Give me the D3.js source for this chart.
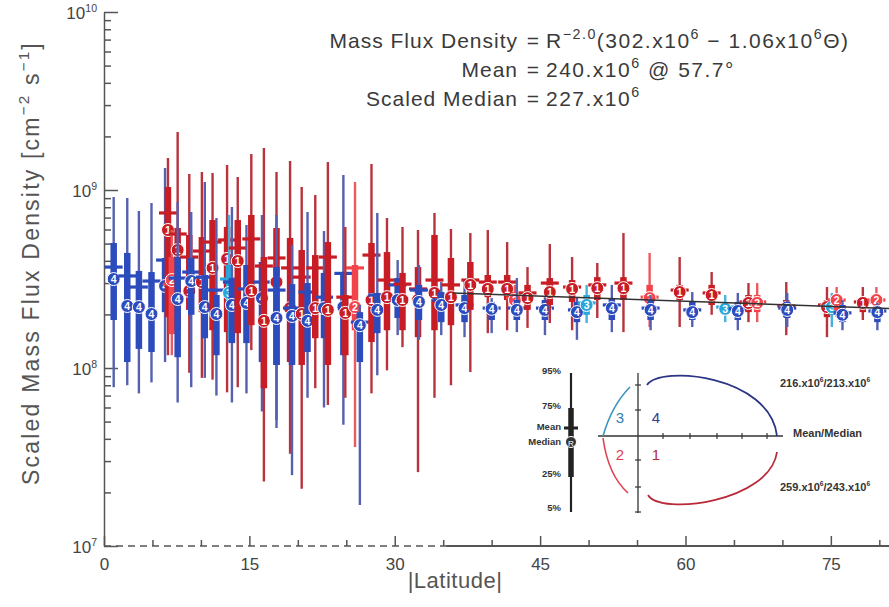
<!DOCTYPE html>
<html><head><meta charset="utf-8">
<script src="https://cdn.jsdelivr.net/npm/d3@7"></script>
<style>body{margin:0;background:#fff}svg{display:block}</style>
</head><body><svg id="c" width="889" height="607" font-family="Liberation Sans, Arial, sans-serif"></svg>
<script>
// ---- data (values in units of 10^6 cm^-2 s^-1) ----
const latitude = [1.0,2.4,3.6,4.9,6.3,6.6,7.0,7.6,7.6,8.8,9.0,10.1,10.4,11.2,11.6,12.7,12.9,13.2,13.8,14.7,15.2,16.3,16.5,17.8,17.8,19.2,19.4,20.4,21.0,21.8,22.7,23.1,24.7,24.9,25.9,26.4,27.6,28.2,29.2,30.3,30.8,32.4,32.5,34.1,34.8,35.8,37.2,37.8,39.6,40.0,41.6,42.4,42.6,43.7,45.5,46.0,48.3,48.8,49.8,50.9,52.4,53.6,56.3,56.4,59.4,60.7,62.7,64.1,65.4,66.5,67.4,70.4,70.5,74.6,75.1,75.6,76.2,78.3,79.7,79.8];
const quadrant = [4,4,4,4,4,1,2,1,4,1,4,1,4,1,4,1,3,4,1,4,1,4,1,1,4,1,4,1,4,1,4,1,4,1,2,4,1,4,1,4,1,1,4,1,4,1,4,1,1,4,1,2,4,1,4,1,1,4,3,1,4,1,2,4,1,4,1,3,4,1,2,1,4,1,3,2,4,1,2,4];
const p05 = [78,80,72,83,108,118,118,115,64,94,78,88,88,86,70,73,140,64,78,72,126,57,23,51,46,33,25,21,68,77,60,62,48,68,36,17,72,91,97,153,131,26,144,68,153,80,149,95,157,157,163,186,159,168,153,179,163,144,179,191,159,159,170,163,170,170,199,181,163,181,181,153,170,149,170,193,163,186,193,163];
const p25 = [186,108,128,123,206,193,155,163,115,212,199,206,147,163,118,159,212,138,157,138,174,108,77,104,104,108,104,104,123,147,147,104,118,118,163,108,140,157,163,191,163,149,186,163,181,174,181,212,250,186,241,212,186,212,186,226,235,181,199,241,186,241,226,186,241,186,226,199,186,206,206,193,191,193,199,212,181,206,212,181];
const median = [316,223,220,201,289,596,312,460,244,271,308,304,220,365,201,410,264,226,399,232,271,247,184,304,191,217,196,201,184,217,217,212,220,204,220,174,241,212,250,241,241,241,235,264,226,250,217,293,278,215,278,241,212,247,212,267,278,206,226,281,217,281,247,212,267,206,257,215,209,232,232,217,212,220,220,241,199,232,241,206];
const mean = [369,329,285,308,404,743,296,566,320,420,346,454,324,510,274,524,316,304,472,278,531,304,374,415,274,365,217,324,267,365,250,420,340,250,365,181,431,257,312,293,296,278,274,312,241,293,226,312,304,217,304,247,217,264,217,300,285,212,232,293,226,300,250,217,274,212,264,220,215,235,235,223,217,226,223,241,204,235,241,209];
const p75 = [504,443,351,346,415,1040,420,612,420,559,415,544,333,678,257,620,379,320,678,379,724,394,420,612,369,538,296,460,300,431,342,510,346,257,379,206,504,264,448,320,342,369,293,559,267,415,257,394,333,235,333,267,241,293,241,320,312,235,257,324,247,324,293,241,293,235,293,235,235,257,257,241,235,241,241,257,226,250,257,223];
const p95 = [913,902,762,845,1329,1513,596,2117,856,1230,752,1262,1109,1246,696,1382,724,803,1183,636,1593,724,1722,1262,724,1455,491,1040,752,937,588,1436,1214,620,1109,226,1400,743,696,404,620,596,379,743,304,604,312,573,596,247,510,293,320,369,250,497,420,250,293,389,293,573,443,257,420,267,346,257,264,300,300,304,264,285,264,285,241,285,285,232];
// fit: Mass Flux Density = R^-2 (302.x10^6 - 1.06x10^6 * lat)
const fitIntercept = 302, fitSlope = -1.06, fitRange = [36, 81];
const xTicks = [0,15,30,45,60,75];
const xMinor = [5,10,20,25,35,40,50,55,65,70,80];
const yExp = [7,8,9,10];

const colors = {1:{thick:"#c81d25",thin:"#b8333c"},2:{thick:"#f2444a",thin:"#ea5a5f"},3:{thick:"#2aa6d8",thin:"#4ab0dc"},4:{thick:"#2c4bbd",thin:"#5560b0"}};
const axisCol = "#555";

const svg = d3.select("#c");
svg.append("rect").attr("width",889).attr("height",607).attr("fill","#fff");
const x = d3.scaleLinear().domain([0,81]).range([104,889]);
const y = d3.scaleLog().domain([1e7,1e10]).range([546,12]);

function rich(t, parts, size, supScale){
  const ss = supScale||0.62;
  let up=false;
  parts.forEach(p=>{
    const s = typeof p==="string"?{t:p}:p;
    const ts = t.append("tspan").text(s.t);
    if(s.sup){ ts.attr("font-size",size*ss).attr("dy", up?0:-size*0.42); up=true; }
    else { ts.attr("font-size",size).attr("dy", up? size*0.42:0); up=false; }
  });
  return t;
}

// Y axis
const gy = svg.append("g").attr("transform","translate(104,0)")
  .call(d3.axisLeft(y).tickValues(yExp.map(e=>Math.pow(10,e))).tickSize(-14).tickSizeOuter(0).tickFormat(""));
const yMinorVals=[]; [7,8,9].forEach(e=>{for(let k=2;k<=9;k++) yMinorVals.push(k*Math.pow(10,e));});
const gy2 = svg.append("g").attr("transform","translate(104,0)")
  .call(d3.axisLeft(y).tickValues(yMinorVals).tickSize(-7).tickSizeOuter(0).tickFormat(""));
gy2.select(".domain").remove();
[gy,gy2].forEach(g=>{g.selectAll("line,path").attr("stroke",axisCol).attr("stroke-width",1.5);});
yExp.forEach(e=>{
  const t = svg.append("text").attr("x",97).attr("y",y(Math.pow(10,e))+7).attr("text-anchor","end").attr("fill","#444");
  rich(t,["10",{t:String(e),sup:true}],17);
});

// X axis
const gx = svg.append("g").attr("transform","translate(0,546)")
  .call(d3.axisBottom(x).tickValues(xTicks).tickSize(-10).tickSizeOuter(0).tickPadding(12).tickFormat(d=>d));
gx.select(".domain").remove();
gx.selectAll("line").attr("stroke",axisCol).attr("stroke-width",1.5);
gx.selectAll("text").attr("font-size",17).attr("fill","#444").attr("font-family","Liberation Sans, Arial, sans-serif");
const gx2 = svg.append("g").attr("transform","translate(0,546)")
  .call(d3.axisBottom(x).tickValues(xMinor).tickSize(-6).tickSizeOuter(0).tickFormat(""));
gx2.select(".domain").remove();
gx2.selectAll("line").attr("stroke",axisCol).attr("stroke-width",1.5);
svg.append("line").attr("x1",x(0)).attr("x2",x(35.3)).attr("y1",546).attr("y2",546)
  .attr("stroke",axisCol).attr("stroke-width",1.5).attr("stroke-dasharray","7,5");
svg.append("line").attr("x1",x(35.3)).attr("x2",889).attr("y1",546).attr("y2",546)
  .attr("stroke",axisCol).attr("stroke-width",1.8);

// axis titles
svg.append("text").attr("x",455).attr("y",588).attr("text-anchor","middle").attr("font-size",22).attr("letter-spacing",0.5).attr("fill","#555").text("|Latitude|");
const yl = svg.append("text").attr("transform","translate(39,263) rotate(-90)").attr("text-anchor","middle")
  .attr("fill","#555").attr("letter-spacing",2.2);
rich(yl,["Scaled Mass Flux Density [cm",{t:"−2",sup:true}," s",{t:"−1",sup:true},"]"],23,0.66);

// title block, aligned on "="
const eqX = 533;
const lines = [
  {y:48, left:"Mass Flux Density", right:["R",{t:"−2.0",sup:true},"(302.x10",{t:"6",sup:true}," − 1.06x10",{t:"6",sup:true},"Θ)"]},
  {y:77, left:"Mean", right:["240.x10",{t:"6",sup:true}," @ 57.7°"]},
  {y:106, left:"Scaled Median", right:["227.x10",{t:"6",sup:true}]}
];
lines.forEach(l=>{
  svg.append("text").attr("x",eqX-15).attr("y",l.y).attr("text-anchor","end").attr("font-size",21).attr("letter-spacing",1).attr("fill","#3a3a3a").text(l.left);
  svg.append("text").attr("x",eqX).attr("y",l.y).attr("text-anchor","middle").attr("font-size",21).attr("fill","#3a3a3a").text("=");
  rich(svg.append("text").attr("x",eqX+13).attr("y",l.y).attr("letter-spacing",1.5).attr("fill","#3a3a3a"), l.right, 21, 0.68);
});

// data marks
const rows = latitude.map((lat,i)=>({lat,q:quadrant[i],p05:p05[i]*1e6,p25:p25[i]*1e6,med:median[i]*1e6,mean:mean[i]*1e6,p75:p75[i]*1e6,p95:p95[i]*1e6}));
const gm = svg.append("g");
rows.forEach(d=>{
  const c = colors[d.q], cx = x(d.lat);
  const g = gm.append("g");
  g.append("line").attr("x1",cx).attr("x2",cx).attr("y1",y(d.p05)).attr("y2",y(d.p95)).attr("stroke",c.thin).attr("stroke-width",2.4);
  g.append("line").attr("x1",cx).attr("x2",cx).attr("y1",y(d.p25)).attr("y2",y(d.p75)).attr("stroke",c.thick).attr("stroke-width",6.5);
  g.append("line").attr("x1",cx-9).attr("x2",cx+9).attr("y1",y(d.mean)).attr("y2",y(d.mean)).attr("stroke",c.thick).attr("stroke-width",3.2);
  g.append("circle").attr("cx",cx).attr("cy",y(d.med)).attr("r",6.5).attr("fill",c.thick).attr("stroke","#fff").attr("stroke-width",1);
  g.append("text").attr("x",cx).attr("y",y(d.med)+3.8).attr("text-anchor","middle").attr("font-size",10.5).attr("font-weight","bold").attr("fill","#fff").text(d.q);
});

// fit line
const fit = d3.line().x(v=>x(v)).y(v=>y((fitIntercept+fitSlope*v)*1e6));
svg.append("path").attr("d",fit(fitRange)).attr("fill","none").attr("stroke","#333").attr("stroke-width",1.5);

// ---- inset legend ----
const ins = svg.append("g").attr("transform","translate(520,360)");
const pct = [["95%",10],["75%",45],["Mean",66],["Median",81],["25%",113],["5%",147]];
pct.forEach(p=>ins.append("text").attr("x",41).attr("y",p[1]+3.5).attr("text-anchor","end").attr("font-size",9.5).attr("font-weight","bold").attr("fill","#333").text(p[0]));
ins.append("line").attr("x1",51).attr("x2",51).attr("y1",13).attr("y2",152).attr("stroke","#222").attr("stroke-width",2.2);
ins.append("line").attr("x1",51).attr("x2",51).attr("y1",48).attr("y2",117).attr("stroke","#222").attr("stroke-width",5.5);
ins.append("line").attr("x1",44).attr("x2",58).attr("y1",68).attr("y2",68).attr("stroke","#222").attr("stroke-width",3);
ins.append("circle").attr("cx",51).attr("cy",82).attr("r",5.5).attr("fill","#333").attr("stroke","#fff");
ins.append("text").attr("x",51).attr("y",85.5).attr("text-anchor","middle").attr("font-size",8).attr("fill","#fff").text("R");
// cross axes
ins.append("line").attr("x1",118).attr("x2",118).attr("y1",13).attr("y2",153).attr("stroke","#333").attr("stroke-width",1.3);
ins.append("line").attr("x1",78).attr("x2",263).attr("y1",76).attr("y2",76).attr("stroke","#333").attr("stroke-width",1.3);
[143,170,197,222,247].forEach(t=>ins.append("line").attr("x1",t).attr("x2",t).attr("y1",73).attr("y2",79).attr("stroke","#333").attr("stroke-width",1.2));
[25,50,100,127,152].forEach(t=>ins.append("line").attr("x1",115).attr("x2",121).attr("y1",t).attr("y2",t).attr("stroke","#333").attr("stroke-width",1.2));
ins.append("path").attr("d","M127,25 C140,5 250,15 257,76").attr("fill","none").attr("stroke","#2b3585").attr("stroke-width",1.8);
ins.append("path").attr("d","M128,135 C140,156 250,142 257,92").attr("fill","none").attr("stroke","#b82a3a").attr("stroke-width",1.8);
ins.append("path").attr("d","M110,27 Q92,45 83,76").attr("fill","none").attr("stroke","#3a93c0").attr("stroke-width",1.6);
ins.append("path").attr("d","M83,78 Q88,115 108,133").attr("fill","none").attr("stroke","#e0404e").attr("stroke-width",1.6);
[["3",100,63,"#2d7fb0"],["4",136,63,"#3a3a90"],["2",100,100,"#e0404e"],["1",136,100,"#b82a3a"]].forEach(q=>
  ins.append("text").attr("x",q[1]).attr("y",q[2]).attr("text-anchor","middle").attr("font-size",15).attr("fill",q[3]).text(q[0]));
rich(ins.append("text").attr("x",260).attr("y",27).attr("fill","#333").attr("font-weight","bold"),["216.x10",{t:"6",sup:true},"/213.x10",{t:"6",sup:true}],11);
ins.append("text").attr("x",273).attr("y",77).attr("font-size",11).attr("font-weight","bold").attr("fill","#333").text("Mean/Median");
rich(ins.append("text").attr("x",260).attr("y",131).attr("fill","#333").attr("font-weight","bold"),["259.x10",{t:"6",sup:true},"/243.x10",{t:"6",sup:true}],11);
</script></body></html>
